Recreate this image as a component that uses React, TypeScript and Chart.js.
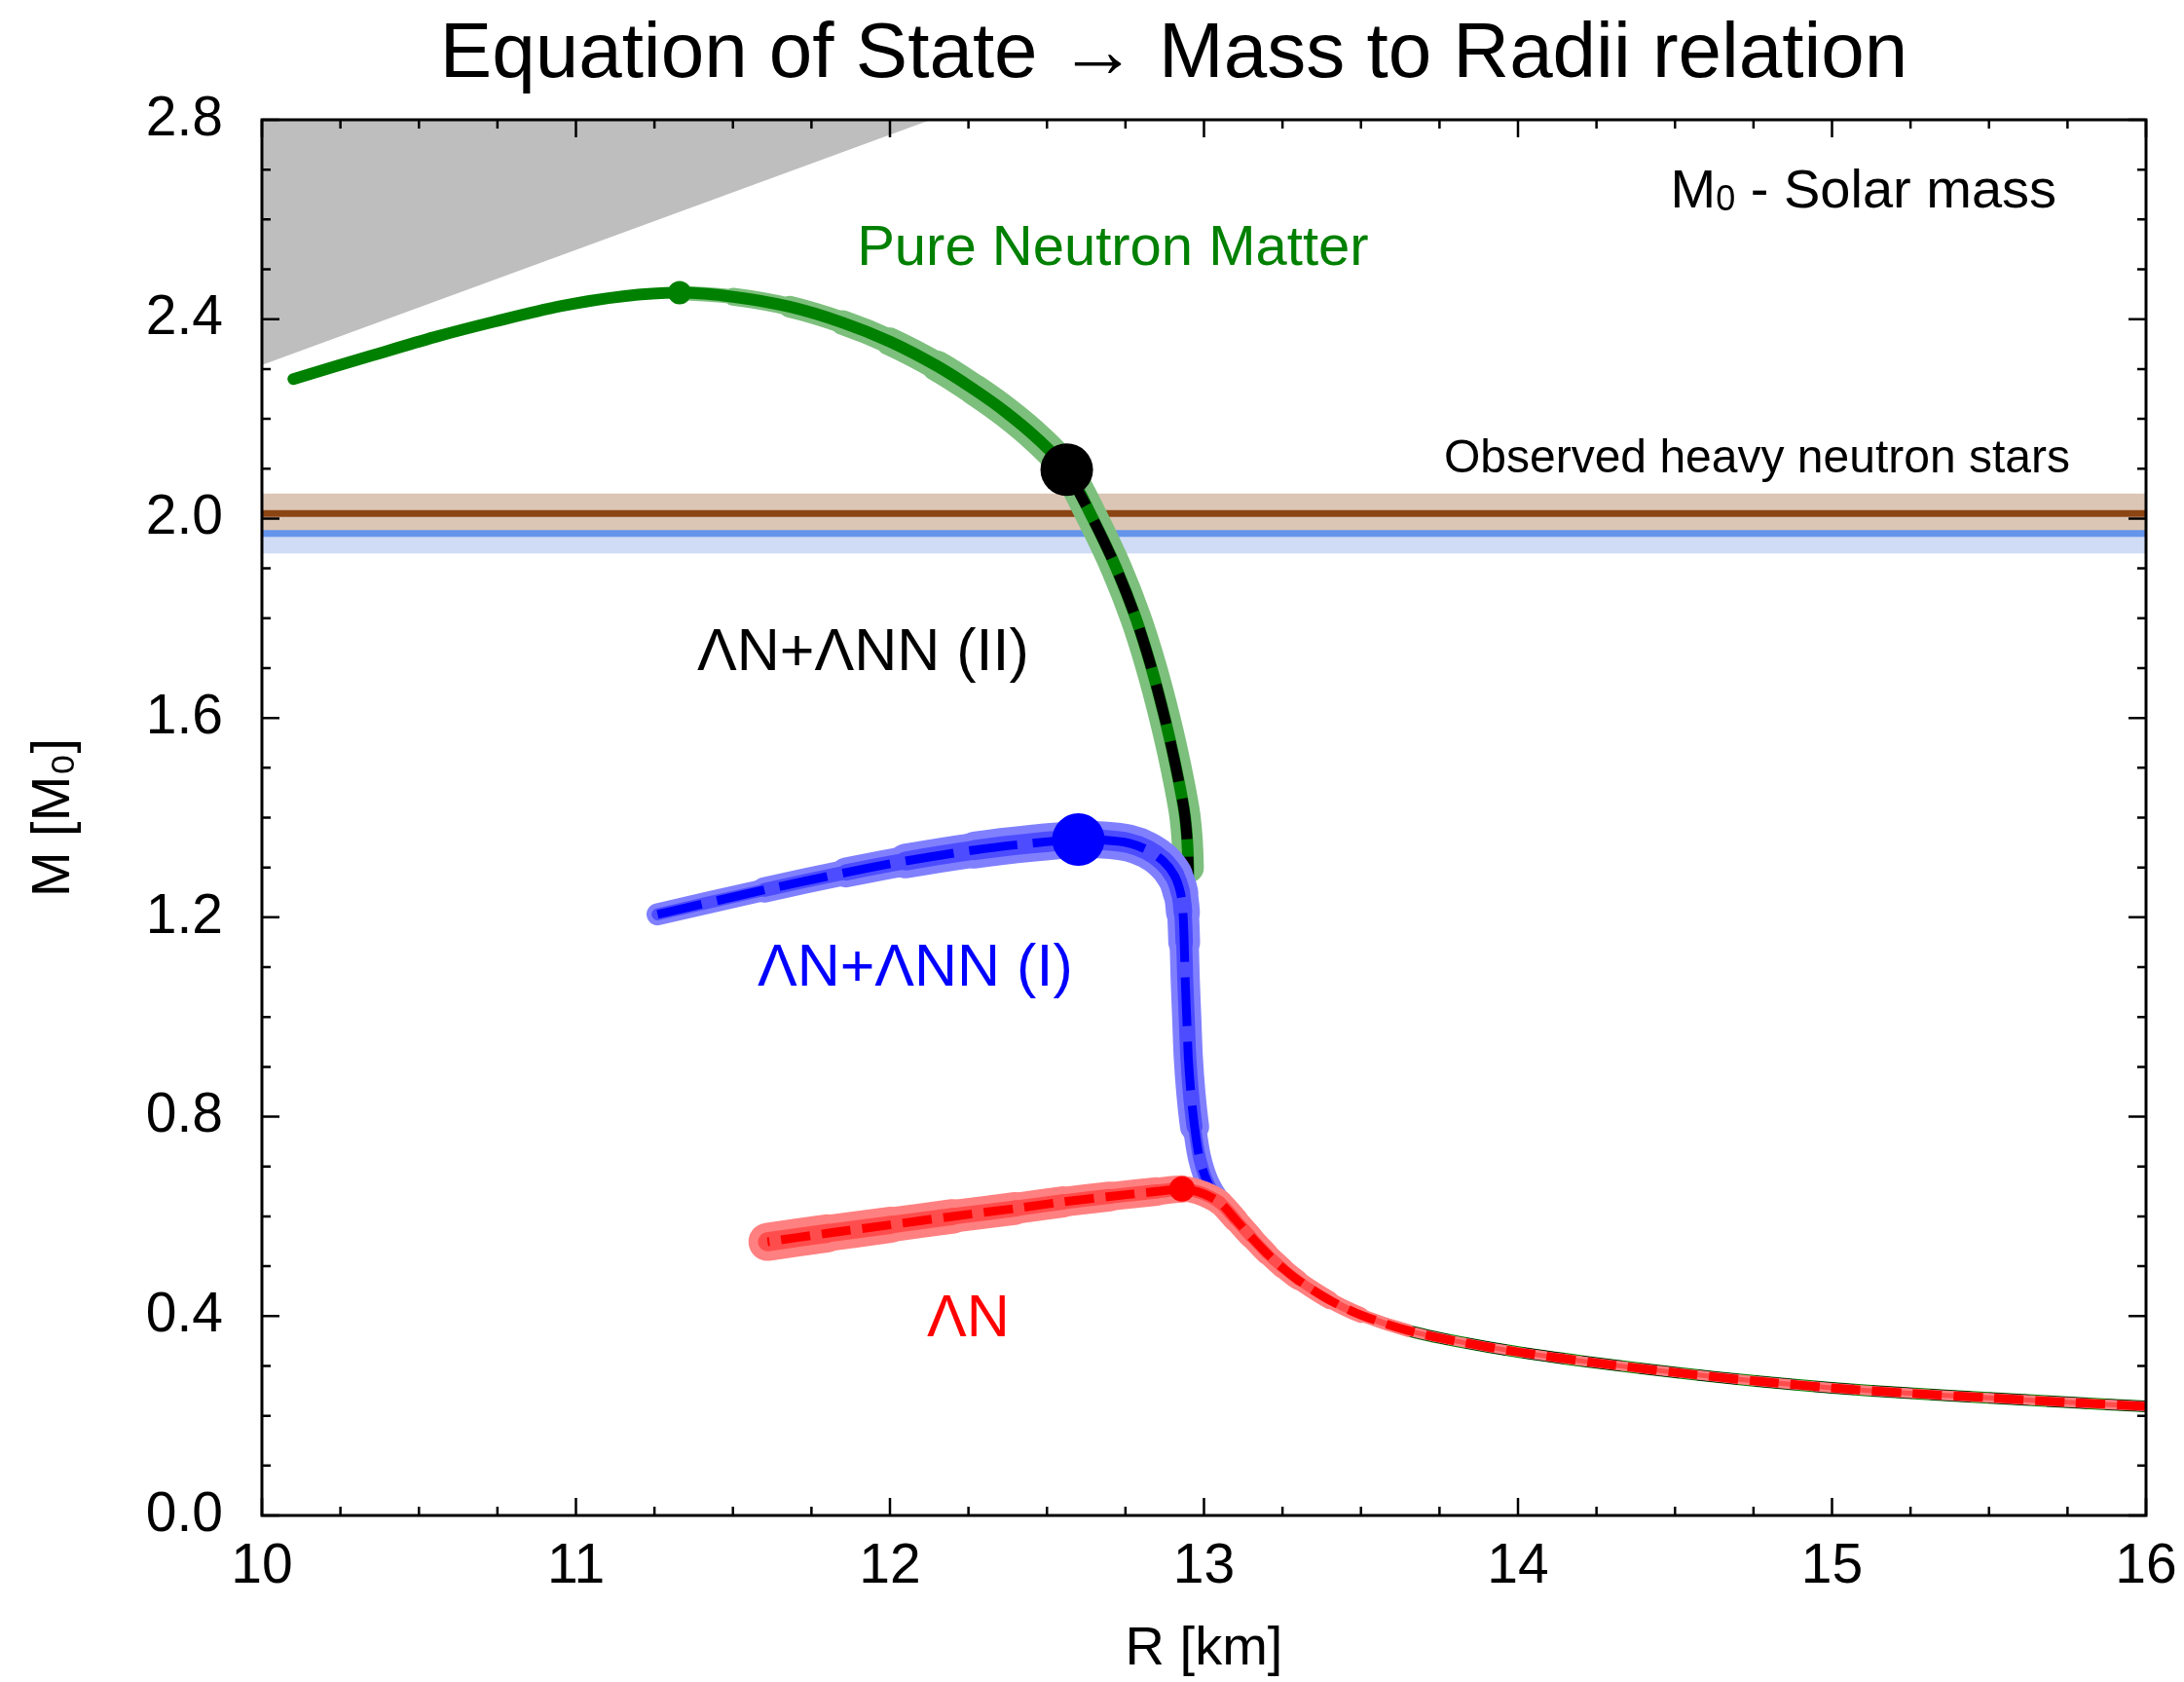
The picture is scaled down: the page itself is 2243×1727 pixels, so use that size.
import React, { useEffect, useRef } from 'react';
import { Chart, registerables } from 'chart.js';

Chart.register(...registerables);

const W = 2243;
const H = 1727;
const FONT = '"Liberation Sans", Arial, Helvetica, sans-serif';

// ---------- data ----------
const TITLE = 'Equation of State → Mass to Radii relation';
const X_LABEL = 'R [km]';
const Y_LABEL = 'M [M₀]';

// shared low-mass branch (R in km, M in solar masses)
const tailR = [16.0, 15.75, 15.5, 15.25, 15.0, 14.75, 14.5, 14.25, 14.0, 13.8, 13.65, 13.5, 13.4, 13.3, 13.25, 13.2, 13.15, 13.1];
const tailM = [0.219, 0.227, 0.236, 0.245, 0.256, 0.27, 0.287, 0.306, 0.328, 0.35, 0.371, 0.402, 0.432, 0.472, 0.497, 0.526, 0.559, 0.594];

// Pure neutron matter (continuation of the shared branch)
const pnmR = [13.05, 13.01, 12.985, 12.962, 12.952, 12.948, 12.946, 12.946, 12.95, 12.94, 12.911, 12.875, 12.833, 12.783, 12.721, 12.646, 12.563, 12.47, 12.37, 12.27, 12.15, 12.0, 11.85, 11.68, 11.5, 11.33, 11.15, 10.95, 10.74, 10.55, 10.35, 10.1];
const pnmM = [0.628, 0.67, 0.72, 0.8, 0.9, 1.0, 1.1, 1.2, 1.3, 1.4, 1.5, 1.6, 1.7, 1.8, 1.9, 2.0, 2.098, 2.16, 2.213, 2.258, 2.306, 2.355, 2.393, 2.425, 2.445, 2.453, 2.446, 2.426, 2.395, 2.364, 2.327, 2.28];

// ΛN+ΛNN (II)
const lnn2R = [13.05, 13.01, 12.985, 12.962, 12.952, 12.948, 12.946, 12.946, 12.95, 12.94, 12.911, 12.875, 12.833, 12.783, 12.721, 12.646, 12.563];
const lnn2M = [0.628, 0.67, 0.72, 0.8, 0.9, 1.0, 1.1, 1.2, 1.3, 1.4, 1.5, 1.6, 1.7, 1.8, 1.9, 2.0, 2.098];

// ΛN+ΛNN (I)
const lnn1R = [13.05, 13.01, 12.985, 12.97, 12.958, 12.95, 12.945, 12.94, 12.937, 12.933, 12.925, 12.905, 12.87, 12.82, 12.76, 12.68, 12.6, 12.45, 12.27, 12.05, 11.86, 11.6, 11.26];
const lnn1M = [0.628, 0.67, 0.72, 0.78, 0.85, 0.92, 1.0, 1.08, 1.15, 1.21, 1.25, 1.285, 1.313, 1.335, 1.349, 1.355, 1.356, 1.3485, 1.335, 1.313, 1.29, 1.255, 1.206];

// ΛN
const lnR = [13.05, 13.0, 12.96, 12.93, 12.85, 12.7, 12.55, 12.4, 12.2, 12.0, 11.8, 11.61];
const lnM = [0.628, 0.645, 0.653, 0.655, 0.65, 0.64, 0.629, 0.616, 0.6, 0.583, 0.566, 0.549];

// maximum-mass points: PNM, (II), (I), ΛN
const maxR = [11.33, 12.563, 12.6, 12.93];
const maxM = [2.453, 2.098, 1.356, 0.655];

// observed heavy neutron stars: central value and half width
const obsM = [2.01, 1.97];
const obsErr = [0.04, 0.04];

// causality-excluded region boundary
const causalR = [10.0, 12.13];
const causalM = [2.308, 2.8];

const X_MIN = 10, X_MAX = 16, X_STEP = 1;
const Y_MIN = 0, Y_MAX = 2.8, Y_STEP = 0.4;

// ---------- helpers ----------
const pts = (rs: number[], ms: number[]) => rs.map((r, i) => ({ x: r, y: ms[i] }));
const clamp01 = (v: number) => Math.max(0, Math.min(1, v));
const tailShrink = (x: number, w: number, wt: number) =>
  x > 13.05 ? w + (wt - w) * clamp01((x - 13.05) / 0.65) : w;
const segW = (fn: (x: number, y: number) => number) => (ctx: any) => {
  const x = (ctx.p0.parsed.x + ctx.p1.parsed.x) / 2;
  const y = (ctx.p0.parsed.y + ctx.p1.parsed.y) / 2;
  return fn(x, y);
};

const pnmPts = pts([...tailR, ...pnmR], [...tailM, ...pnmM]);
const pnmBandPts = pnmPts.slice(0, tailR.length + pnmR.indexOf(maxR[0]) + 1);
const lnn2Pts = pts([...tailR, ...lnn2R], [...tailM, ...lnn2M]);
const lnn1Pts = pts([...tailR, ...lnn1R], [...tailM, ...lnn1M]);
const lnPts = pts([...tailR, ...lnR], [...tailM, ...lnM]);

const greenBandW = (x: number, y: number) =>
  y < 1.32 ? tailShrink(x, 12, 6) : 13 + 19 * clamp01((x - 11.33) / 0.9);
const blueOuterW = (x: number, y: number) => {
  const horiz = 14 + 24 * clamp01((x - 11.26) / 1.0);
  const vert = y < 0.78 ? 24 : 30;
  const t = clamp01((y - 1.12) / 0.18);
  return tailShrink(x, vert + (horiz - vert) * t, 9);
};
const redOuterW = (x: number) =>
  x < 12.94 ? 40 - 12 * clamp01((x - 11.61) / 1.3) : tailShrink(x, 26, 10);

const curve = (data: any[], color: string, width: number, order: number, extra: any = {}) => ({
  type: 'scatter',
  data,
  showLine: true,
  borderColor: color,
  backgroundColor: color,
  borderWidth: width,
  pointRadius: 0,
  pointHoverRadius: 0,
  tension: 0.3,
  fill: false,
  borderCapStyle: 'round',
  borderJoinStyle: 'round',
  order,
  ...extra,
});

const dot = (i: number, color: string, r: number, order: number) => ({
  type: 'scatter',
  data: [{ x: maxR[i], y: maxM[i] }],
  pointRadius: r,
  pointHoverRadius: r,
  pointBackgroundColor: color,
  pointBorderWidth: 0,
  showLine: false,
  order,
});

const hLine = (m: number, color: string, width: number, order: number) => ({
  type: 'scatter',
  data: [{ x: X_MIN, y: m }, { x: X_MAX, y: m }],
  showLine: true,
  borderColor: color,
  borderWidth: width,
  pointRadius: 0,
  fill: false,
  order,
});

const hBand = (m: number, e: number, color: string, order: number) => ({
  type: 'scatter',
  data: [{ x: X_MIN, y: m + e }, { x: X_MAX, y: m + e }],
  showLine: true,
  borderWidth: 0,
  borderColor: 'rgba(0,0,0,0)',
  backgroundColor: color,
  pointRadius: 0,
  fill: { value: m - e },
  order,
});

// ---------- annotations ----------
const LABELS = [
  { text: 'Pure Neutron Matter', r: 11.895, m: 2.509, color: '#008000', size: 58, align: 'left' },
  { text: 'ΛN+ΛNN (II)', r: 11.386, m: 1.696, color: '#000000', size: 61, align: 'left' },
  { text: 'ΛN+ΛNN (I)', r: 11.578, m: 1.063, color: '#0000ff', size: 61, align: 'left' },
  { text: 'ΛN', r: 12.118, m: 0.3595, color: '#ff0000', size: 61, align: 'left' },
  { text: 'Observed heavy neutron stars', r: 15.758, m: 2.093, color: '#000000', size: 48, align: 'right' },
];

const framePlugin = {
  id: 'frameTicks',
  afterDatasetsDraw(chart: any) {
    const { ctx, chartArea, scales } = chart;
    const { left, right, top, bottom } = chartArea;
    const xs = scales.x, ys = scales.y;
    ctx.save();
    ctx.strokeStyle = '#000';
    ctx.lineWidth = 2.5;
    ctx.beginPath();
    for (let k = 0; k <= (X_MAX - X_MIN) * 4; k++) {
      const v = X_MIN + k * 0.25;
      const px = xs.getPixelForValue(v);
      const L = k % 4 === 0 ? 18 : 9;
      ctx.moveTo(px, bottom); ctx.lineTo(px, bottom - L);
      ctx.moveTo(px, top); ctx.lineTo(px, top + L);
    }
    for (let k = 0; k <= Math.round((Y_MAX - Y_MIN) * 10); k++) {
      const v = Y_MIN + k * 0.1;
      const py = ys.getPixelForValue(v);
      const L = k % 4 === 0 ? 18 : 9;
      ctx.moveTo(left, py); ctx.lineTo(left + L, py);
      ctx.moveTo(right, py); ctx.lineTo(right - L, py);
    }
    ctx.stroke();
    ctx.lineWidth = 3;
    ctx.strokeRect(left, top, right - left, bottom - top);
    ctx.restore();
  },
  afterDraw(chart: any) {
    const { ctx, chartArea, scales } = chart;
    const xs = scales.x, ys = scales.y;
    ctx.save();
    // title
    ctx.fillStyle = '#000';
    ctx.font = `80px ${FONT}`;
    ctx.textAlign = 'center';
    ctx.textBaseline = 'alphabetic';
    ctx.fillText(TITLE, chartArea.left + (chartArea.right - chartArea.left) * 0.484, 79);
    // labels
    for (const l of LABELS) {
      ctx.fillStyle = l.color;
      ctx.font = `${l.size}px ${FONT}`;
      ctx.textAlign = l.align;
      ctx.fillText(l.text, xs.getPixelForValue(l.r), ys.getPixelForValue(l.m));
    }
    // M0 - Solar mass
    const bx = xs.getPixelForValue(15.715);
    const by = ys.getPixelForValue(2.624);
    ctx.fillStyle = '#000';
    ctx.textAlign = 'left';
    ctx.font = `56px ${FONT}`;
    const wM = ctx.measureText('M').width;
    const rest = ' - Solar mass';
    const wRest = ctx.measureText(rest).width;
    ctx.font = `36px ${FONT}`;
    const w0 = ctx.measureText('0').width;
    const x0 = bx - wRest - w0 - wM;
    ctx.font = `56px ${FONT}`;
    ctx.fillText('M', x0, by);
    ctx.font = `36px ${FONT}`;
    ctx.fillText('0', x0 + wM, by + 3);
    ctx.font = `56px ${FONT}`;
    ctx.fillText(rest, x0 + wM + w0, by);
    ctx.restore();
  },
};

export default function App() {
  const ref = useRef<HTMLCanvasElement>(null);
  useEffect(() => {
    if (!ref.current) return;
    const datasets: any[] = [
      // causality excluded region
      {
        type: 'scatter',
        data: pts(causalR, causalM),
        showLine: true,
        borderWidth: 0,
        borderColor: 'rgba(0,0,0,0)',
        backgroundColor: '#bebebe',
        pointRadius: 0,
        fill: 'end',
        order: 100,
      },
      hBand(obsM[1], obsErr[1], '#d0dcf5', 95),
      hBand(obsM[0], obsErr[0], '#dbc6b6', 94),
      hLine(obsM[1], '#6495ed', 7, 93),
      hLine(obsM[0], '#8b4513', 7, 92),
      // Pure neutron matter
      curve(pnmBandPts, '#7dbf7d', 30, 80, { segment: { borderWidth: segW(greenBandW) } }),
      curve(pnmPts, '#008000', 12, 79),
      // ΛN+ΛNN (II)
      curve(lnn2Pts, '#000000', 11, 78, { borderDash: [42, 18], borderCapStyle: 'butt' }),
      // ΛN+ΛNN (I)
      curve(lnn1Pts, '#8080ff', 30, 70, { segment: { borderWidth: segW(blueOuterW) } }),
      curve(lnn1Pts, '#4d4dff', 16, 69, { segment: { borderWidth: segW((x, y) => blueOuterW(x, y) * 0.55) } }),
      curve(lnn1Pts, '#0000ff', 9, 68, { borderDash: [50, 16], borderCapStyle: 'butt' }),
      // ΛN
      curve(lnPts, '#ff8080', 30, 60, { segment: { borderWidth: segW(redOuterW) } }),
      curve(lnPts, '#ff4d4d', 15, 59, { segment: { borderWidth: segW((x) => redOuterW(x) * 0.5) } }),
      curve(lnPts, '#ff0000', 9, 58, { borderDash: [30, 12], borderCapStyle: 'butt' }),
      // maximum mass points
      dot(0, '#008000', 12, 50),
      dot(1, '#000000', 27, 49),
      dot(2, '#0000ff', 27, 48),
      dot(3, '#ff0000', 13, 47),
    ];

    const chart = new Chart(ref.current, {
      type: 'scatter',
      data: { datasets },
      options: {
        responsive: false,
        devicePixelRatio: 1,
        animation: false,
        events: [],
        layout: { padding: { left: 0, top: 123, right: 39, bottom: 0 } },
        plugins: {
          legend: { display: false },
          tooltip: { enabled: false },
          title: { display: false },
        },
        scales: {
          x: {
            type: 'linear',
            min: X_MIN,
            max: X_MAX,
            grid: { display: false, drawTicks: false },
            border: { display: false },
            ticks: {
              stepSize: X_STEP,
              padding: 19,
              color: '#000',
              font: { family: FONT, size: 57 },
              callback: (v: any) => String(v),
              maxRotation: 0,
            },
            title: {
              display: true,
              text: X_LABEL,
              color: '#000',
              font: { family: FONT, size: 56 },
              padding: { top: 0, bottom: 0 },
            },
            afterFit: (s: any) => {
              s.height = 171;
              s.paddingLeft = 0;
              s.paddingRight = 0;
            },
          },
          y: {
            type: 'linear',
            min: Y_MIN,
            max: Y_MAX,
            grid: { display: false, drawTicks: false },
            border: { display: false },
            ticks: {
              stepSize: Y_STEP,
              padding: 40,
              color: '#000',
              font: { family: FONT, size: 57 },
              callback: (v: any) => Number(v).toFixed(1),
            },
            title: {
              display: true,
              text: Y_LABEL,
              color: '#000',
              font: { family: FONT, size: 56 },
              padding: { top: 22, bottom: 0 },
            },
            afterFit: (s: any) => {
              s.width = 269;
              s.paddingTop = 0;
              s.paddingBottom = 0;
            },
          },
        },
      } as any,
      plugins: [framePlugin],
    } as any);
    return () => chart.destroy();
  }, []);

  return (
    <div style={{ position: 'fixed', left: 0, top: 0, width: W, height: H, background: '#fff' }}>
      <canvas ref={ref} width={W} height={H} style={{ display: 'block', width: W, height: H }} />
    </div>
  );
}
